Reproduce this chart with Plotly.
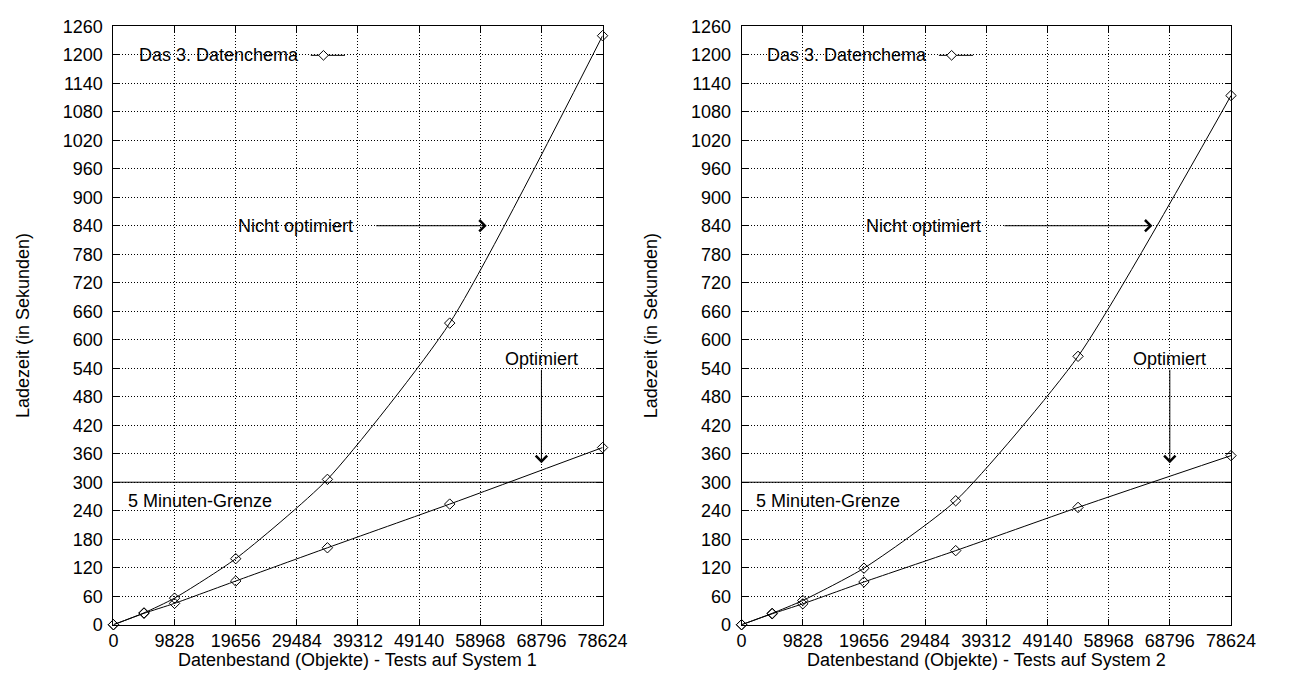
import plotly.graph_objects as go

# Datenbestand (Objekte) und Ladezeiten (Sekunden)
objekte = [0, 4914, 9828, 19656, 34398, 54054, 78624]

sys1_nicht_opt = [0, 25, 56, 139, 306, 635, 1240]
sys1_opt = [0, 24, 45, 92, 162, 254, 373]

sys2_nicht_opt = [0, 24, 51, 119, 261, 565, 1114]
sys2_opt = [0, 23, 44, 90, 156, 247, 356]

grenze_x = [0, 78624]
grenze_y = [300, 300]

x_ticks = [0, 9828, 19656, 29484, 39312, 49140, 58968, 68796, 78624]
y_ticks = list(range(0, 1261, 60))

FONT = "Liberation Sans"
FS = 18
W, H = 1298, 682

fig = go.Figure()

panels = [
    ("x", "y", sys1_nicht_opt, sys1_opt, "Datenbestand (Objekte) - Tests auf System 1"),
    ("x2", "y2", sys2_nicht_opt, sys2_opt, "Datenbestand (Objekte) - Tests auf System 2"),
]

for xa, ya, upper, lower, _ in panels:
    for ys in (upper, lower):
        fig.add_trace(go.Scatter(
            x=objekte, y=ys, xaxis=xa, yaxis=ya,
            mode="lines+markers",
            line=dict(color="black", width=1, shape="spline", smoothing=0.6),
            marker=dict(symbol="diamond-open", size=8, color="black",
                        line=dict(width=1, color="black")),
            cliponaxis=False, showlegend=False, hoverinfo="skip",
        ))
    fig.add_trace(go.Scatter(
        x=grenze_x, y=grenze_y, xaxis=xa, yaxis=ya, mode="lines",
        line=dict(color="black", width=1), showlegend=False, hoverinfo="skip",
    ))

# plot area positions (pixels)
areas = [(111, 611.7), (754, 1255)]
top_px, bot_px = 16.7, 633.3
y_dom = [1 - bot_px / H, 1 - top_px / H]

axis_common = dict(
    showline=True, linecolor="black", linewidth=1, mirror="ticks",
    ticks="inside", ticklen=6, tickwidth=1, tickcolor="black",
    showgrid=True, gridcolor="black", gridwidth=1, griddash="1px,2px",
    zeroline=False, tickfont=dict(family=FONT, size=FS, color="black"),
)

layout_axes = {}
for i, (x0, x1) in enumerate(areas):
    sfx = "" if i == 0 else str(i + 1)
    layout_axes["xaxis" + sfx] = dict(
        axis_common, domain=[x0 / W, x1 / W], range=[0, 78624],
        tickmode="array", tickvals=x_ticks, ticktext=[str(v) for v in x_ticks],
        anchor="y" + sfx, ticklabelstandoff=0,
    )
    layout_axes["yaxis" + sfx] = dict(
        axis_common, domain=y_dom, range=[0, 1260],
        tickmode="array", tickvals=y_ticks, ticktext=[str(v) for v in y_ticks],
        anchor="x" + sfx, ticklabelstandoff=6,
    )

fig.update_layout(
    width=W, height=H, autosize=False,
    margin=dict(l=0, r=0, t=0, b=0),
    paper_bgcolor="white", plot_bgcolor="white",
    font=dict(family=FONT, size=FS, color="black"),
    **layout_axes,
)

annotations = []
shapes = []
for i, (x0, x1) in enumerate(areas):
    sfx = "" if i == 0 else str(i + 1)
    xr, yr = "x" + sfx, "y" + sfx
    title = panels[i][4]
    # axis titles
    annotations.append(dict(
        text=title, xref="paper", yref="paper",
        x=(x0 + x1) / 2 / W, y=1 - 670 / H, showarrow=False,
        xanchor="center", yanchor="middle", font=dict(size=FS),
    ))
    annotations.append(dict(
        text="Ladezeit (in Sekunden)", xref="paper", yref="paper",
        x=(x0 - 92) / W, y=1 - 325 / H, showarrow=False, textangle=-90,
        xanchor="center", yanchor="middle", font=dict(size=FS),
    ))
    # labels
    annotations.append(dict(text="Nicht optimiert", x=19656, y=840, xref=xr, yref=yr,
                            showarrow=False, xanchor="left", yanchor="middle"))
    annotations.append(dict(text="5 Minuten-Grenze", x=2000, y=260, xref=xr, yref=yr,
                            showarrow=False, xanchor="left", yanchor="middle"))
    annotations.append(dict(text="Optimiert", x=68796, y=560, xref=xr, yref=yr,
                            showarrow=False, xanchor="center", yanchor="middle"))
    head_x = 60000 if i == 0 else 66000
    annotations.append(dict(text="", x=head_x, y=840, ax=42000, ay=840,
                            xref=xr, yref=yr, axref=xr, ayref=yr,
                            showarrow=True, arrowhead=4, arrowsize=2.2, arrowwidth=1,
                            arrowcolor="black", standoff=0, startstandoff=0))
    annotations.append(dict(text="", x=68796, y=340, ax=68796, ay=540,
                            xref=xr, yref=yr, axref=xr, ayref=yr,
                            showarrow=True, arrowhead=4, arrowsize=2.2, arrowwidth=1,
                            arrowcolor="black", standoff=0, startstandoff=0))
    # key
    wpx = x1 - x0
    hpx = bot_px - top_px
    key_y = 1 - (46.7 - top_px) / hpx
    annotations.append(dict(text="Das 3. Datenchema", xref=xr + " domain", yref=yr + " domain",
                            x=(303 - 111) / wpx, y=key_y, showarrow=False,
                            xanchor="right", yanchor="middle"))
    lx0, lx1, lc = (313 - 111) / wpx, (348 - 111) / wpx, (326 - 111) / wpx
    shapes.append(dict(type="line", xref=xr + " domain", yref=yr + " domain",
                       x0=lx0, x1=lx1, y0=key_y, y1=key_y,
                       line=dict(color="black", width=1)))
    dx, dy = 5 / wpx, 5 / hpx
    shapes.append(dict(type="path", xref=xr + " domain", yref=yr + " domain",
                       path=f"M {lc-dx},{key_y} L {lc},{key_y+dy} L {lc+dx},{key_y} L {lc},{key_y-dy} Z",
                       fillcolor="white", line=dict(color="black", width=1)))

fig.update_layout(annotations=annotations, shapes=shapes)
fig.write_html("out.html")
